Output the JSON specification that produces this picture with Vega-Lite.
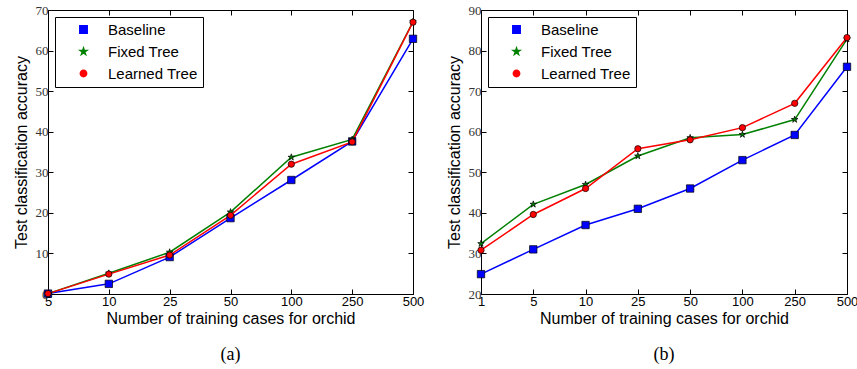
{
  "$schema": "https://vega.github.io/schema/vega-lite/v6.json",
  "padding": {"left": 12, "top": 3, "right": 0, "bottom": 5},
  "background": "white",
  "datasets": {
    "a": [
      {"n": "5", "series": "Baseline", "acc": 0.1},
      {"n": "10", "series": "Baseline", "acc": 2.5},
      {"n": "25", "series": "Baseline", "acc": 9.1},
      {"n": "50", "series": "Baseline", "acc": 18.7},
      {"n": "100", "series": "Baseline", "acc": 28.1},
      {"n": "250", "series": "Baseline", "acc": 37.6},
      {"n": "500", "series": "Baseline", "acc": 62.9},
      {"n": "5", "series": "Fixed Tree", "acc": 0.1},
      {"n": "10", "series": "Fixed Tree", "acc": 5.1},
      {"n": "25", "series": "Fixed Tree", "acc": 10.3},
      {"n": "50", "series": "Fixed Tree", "acc": 20.2},
      {"n": "100", "series": "Fixed Tree", "acc": 33.7},
      {"n": "250", "series": "Fixed Tree", "acc": 38.1},
      {"n": "500", "series": "Fixed Tree", "acc": 67.1},
      {"n": "5", "series": "Learned Tree", "acc": 0.1},
      {"n": "10", "series": "Learned Tree", "acc": 4.9},
      {"n": "25", "series": "Learned Tree", "acc": 9.6},
      {"n": "50", "series": "Learned Tree", "acc": 19.4},
      {"n": "100", "series": "Learned Tree", "acc": 32.0},
      {"n": "250", "series": "Learned Tree", "acc": 37.5},
      {"n": "500", "series": "Learned Tree", "acc": 67.0}
    ],
    "b": [
      {"n": "1", "series": "Baseline", "acc": 24.9},
      {"n": "5", "series": "Baseline", "acc": 31.0},
      {"n": "10", "series": "Baseline", "acc": 37.0},
      {"n": "25", "series": "Baseline", "acc": 41.0},
      {"n": "50", "series": "Baseline", "acc": 46.0},
      {"n": "100", "series": "Baseline", "acc": 53.0},
      {"n": "250", "series": "Baseline", "acc": 59.2},
      {"n": "500", "series": "Baseline", "acc": 76.0},
      {"n": "1", "series": "Fixed Tree", "acc": 32.4},
      {"n": "5", "series": "Fixed Tree", "acc": 42.1},
      {"n": "10", "series": "Fixed Tree", "acc": 47.0},
      {"n": "25", "series": "Fixed Tree", "acc": 54.0},
      {"n": "50", "series": "Fixed Tree", "acc": 58.5},
      {"n": "100", "series": "Fixed Tree", "acc": 59.3},
      {"n": "250", "series": "Fixed Tree", "acc": 63.0},
      {"n": "500", "series": "Fixed Tree", "acc": 82.8},
      {"n": "1", "series": "Learned Tree", "acc": 30.8},
      {"n": "5", "series": "Learned Tree", "acc": 39.6},
      {"n": "10", "series": "Learned Tree", "acc": 46.0},
      {"n": "25", "series": "Learned Tree", "acc": 55.8},
      {"n": "50", "series": "Learned Tree", "acc": 58.0},
      {"n": "100", "series": "Learned Tree", "acc": 61.0},
      {"n": "250", "series": "Learned Tree", "acc": 67.0},
      {"n": "500", "series": "Learned Tree", "acc": 83.2}
    ]
  },
  "config": {
    "view": {"stroke": "black", "strokeWidth": 1},
    "axis": {
      "grid": false,
      "domain": false,
      "tickColor": "black",
      "tickSize": -5,
      "tickWidth": 1,
      "titleFont": "Liberation Sans",
      "titleFontSize": 16,
      "titleFontWeight": "normal",
      "titleColor": "black"
    },
    "axisX": {"labelFont": "Liberation Sans", "labelFontSize": 13, "labelColor": "black", "labelPadding": 6, "labelAngle": 0, "titlePadding": 2},
    "axisY": {"labelFont": "Liberation Serif", "labelFontSize": 13, "labelColor": "#333333", "labelPadding": 5, "titlePadding": 6},
    "legend": {
      "strokeColor": "black",
      "fillColor": "white",
      "padding": 5,
      "cornerRadius": 0,
      "labelFont": "Liberation Sans",
      "labelFontSize": 15,
      "labelColor": "black",
      "rowPadding": 6,
      "symbolSize": 49,
      "symbolOffset": 16,
      "labelOffset": 17
    },
    "title": {"font": "Liberation Serif", "fontSize": 18, "fontWeight": "normal", "orient": "bottom", "offset": 20, "color": "black"}
  },
  "hconcat": [
    {
      "width": 365,
      "height": 284,
      "title": "(a)",
      "data": {"name": "a"},
      "layer": [
        {
          "mark": {"type": "line", "strokeWidth": 1.5},
          "encoding": {
            "x": {"field": "n", "type": "ordinal", "sort": ["5","10","25","50","100","250","500"], "scale": {"type": "point", "padding": 0}, "title": "Number of training cases for orchid"},
            "y": {"field": "acc", "type": "quantitative", "scale": {"domain": [0, 70]}, "axis": {"values": [0,10,20,30,40,50,60,70]}, "title": "Test classification accuracy"},
            "color": {"field": "series", "type": "nominal", "scale": {"domain": ["Baseline","Fixed Tree","Learned Tree"], "range": ["#0000ff","#008000","#ff0000"]}, "legend": {"orient": "top-left", "offset": 7, "title": null}}
          }
        },
        {
          "mark": {"type": "point", "filled": true, "stroke": "black", "strokeWidth": 0.7, "opacity": 1},
          "encoding": {
            "x": {"field": "n", "type": "ordinal", "sort": ["5","10","25","50","100","250","500"], "axis": null},
            "y": {"field": "acc", "type": "quantitative", "axis": null},
            "fill": {"field": "series", "type": "nominal", "scale": {"domain": ["Baseline","Fixed Tree","Learned Tree"], "range": ["#0000ff","#008000","#ff0000"]}, "legend": null},
            "shape": {"field": "series", "type": "nominal", "scale": {"domain": ["Baseline","Fixed Tree","Learned Tree"], "range": ["square", "M0,-1L0.2245,-0.309L0.951,-0.309L0.363,0.118L0.588,0.809L0,0.382L-0.588,0.809L-0.363,0.118L-0.951,-0.309L-0.2245,-0.309Z", "circle"]}, "legend": null},
            "size": {"field": "series", "type": "nominal", "scale": {"domain": ["Baseline","Fixed Tree","Learned Tree"], "range": [55, 40, 58]}, "legend": null}
          }
        },
        {
          "mark": {"type": "point", "opacity": 0},
          "encoding": {
            "x": {"field": "n", "type": "ordinal", "sort": ["5","10","25","50","100","250","500"], "axis": {"orient": "top", "labels": false, "title": null}},
            "y": {"field": "acc", "type": "quantitative", "axis": {"orient": "right", "labels": false, "title": null, "values": [0,10,20,30,40,50,60,70]}}
          }
        }
      ],
      "resolve": {"axis": {"x": "independent", "y": "independent"}}
    },
    {
      "width": 366,
      "height": 284,
      "title": "(b)",
      "data": {"name": "b"},
      "layer": [
        {
          "mark": {"type": "line", "strokeWidth": 1.5},
          "encoding": {
            "x": {"field": "n", "type": "ordinal", "sort": ["1","5","10","25","50","100","250","500"], "scale": {"type": "point", "padding": 0}, "title": "Number of training cases for orchid"},
            "y": {"field": "acc", "type": "quantitative", "scale": {"domain": [20, 90]}, "axis": {"values": [20,30,40,50,60,70,80,90]}, "title": "Test classification accuracy"},
            "color": {"field": "series", "type": "nominal", "scale": {"domain": ["Baseline","Fixed Tree","Learned Tree"], "range": ["#0000ff","#008000","#ff0000"]}, "legend": {"orient": "top-left", "offset": 7, "title": null}}
          }
        },
        {
          "mark": {"type": "point", "filled": true, "stroke": "black", "strokeWidth": 0.7, "opacity": 1},
          "encoding": {
            "x": {"field": "n", "type": "ordinal", "sort": ["1","5","10","25","50","100","250","500"], "axis": null},
            "y": {"field": "acc", "type": "quantitative", "axis": null},
            "fill": {"field": "series", "type": "nominal", "scale": {"domain": ["Baseline","Fixed Tree","Learned Tree"], "range": ["#0000ff","#008000","#ff0000"]}, "legend": null},
            "shape": {"field": "series", "type": "nominal", "scale": {"domain": ["Baseline","Fixed Tree","Learned Tree"], "range": ["square", "M0,-1L0.2245,-0.309L0.951,-0.309L0.363,0.118L0.588,0.809L0,0.382L-0.588,0.809L-0.363,0.118L-0.951,-0.309L-0.2245,-0.309Z", "circle"]}, "legend": null},
            "size": {"field": "series", "type": "nominal", "scale": {"domain": ["Baseline","Fixed Tree","Learned Tree"], "range": [55, 40, 58]}, "legend": null}
          }
        },
        {
          "mark": {"type": "point", "opacity": 0},
          "encoding": {
            "x": {"field": "n", "type": "ordinal", "sort": ["1","5","10","25","50","100","250","500"], "axis": {"orient": "top", "labels": false, "title": null}},
            "y": {"field": "acc", "type": "quantitative", "axis": {"orient": "right", "labels": false, "title": null, "values": [20,30,40,50,60,70,80,90]}}
          }
        }
      ],
      "resolve": {"axis": {"x": "independent", "y": "independent"}}
    }
  ],
  "spacing": 20,
  "resolve": {"scale": {"fill": "independent", "color": "independent", "shape": "independent", "size": "independent"}, "legend": {"color": "independent"}}
}
